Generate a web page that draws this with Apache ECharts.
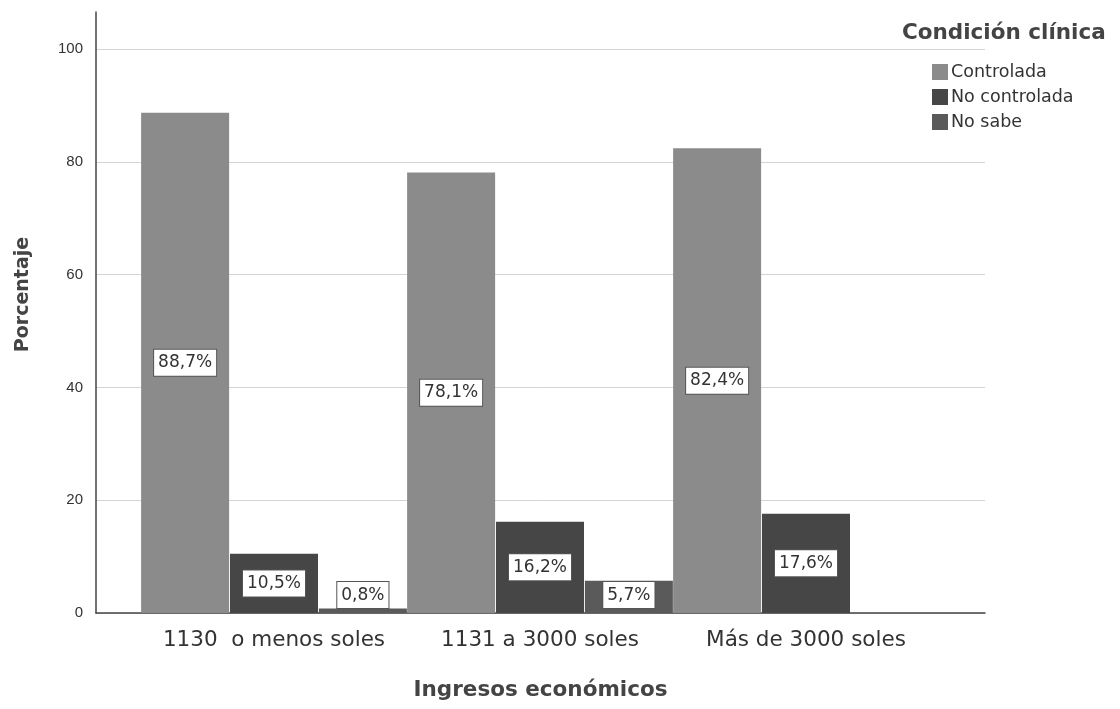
<!DOCTYPE html>
<html>
<head>
<meta charset="utf-8">
<script src="https://cdn.jsdelivr.net/npm/echarts@6/dist/echarts.min.js"></script>
<style>html,body{margin:0;padding:0;background:#fff;}#c{width:1120px;height:709px;}</style>
</head>
<body>
<div id="c"></div>
<script>
var categories = ['1130  o menos soles', '1131 a 3000 soles', 'Más de 3000 soles'];
var controlada = [88.7, 78.1, 82.4];
var noControlada = [10.5, 16.2, 17.6];
var noSabe = [0.8, 5.7, null];
var seriesNames = ['Controlada', 'No controlada', 'No sabe'];
var yTicks = [0, 20, 40, 60, 80, 100];

var colors = ['#8b8b8b', '#464646', '#5a5a5a'];
var yMax = 106.56;
var font = '"DejaVu Sans", sans-serif';
var fontNum = '"Liberation Sans", Arial, sans-serif';

function fmt(v) { return v.toFixed(1).replace('.', ',') + '%'; }

function buildData(arr) {
  return arr.map(function (v) {
    if (v === null) return '-';
    if (v < 6) {
      return { value: v, label: { position: 'insideBottom', distance: 5 } };
    }
    return v;
  });
}

var labelStyle = {
  show: true,
  position: 'inside',
  formatter: function (p) { return fmt(p.value); },
  fontFamily: font,
  fontSize: 17,
  color: '#333',
  backgroundColor: '#fff',
  borderColor: '#555',
  borderWidth: 1,
  padding: [5, 4, 4, 4]
};

var seriesData = [controlada, noControlada, noSabe];
var series = seriesData.map(function (arr, i) {
  return {
    name: seriesNames[i],
    type: 'bar',
    xAxisIndex: 1,
    yAxisIndex: 1,
    data: buildData(arr),
    barWidth: 88,
    barGap: '1%',
    itemStyle: { color: colors[i] },
    label: labelStyle
  };
});

var chart = echarts.init(document.getElementById('c'));
chart.setOption({
  animation: false,
  backgroundColor: '#fff',
  title: {
    text: 'Condición clínica',
    left: 897, top: 17,
    textStyle: { fontFamily: font, fontSize: 21.5, fontWeight: 'bold', color: '#444' }
  },
  legend: {
    orient: 'vertical',
    left: 927, top: 58,
    itemWidth: 16, itemHeight: 16, itemGap: 7,
    icon: 'rect',
    data: seriesNames,
    textStyle: { fontFamily: font, fontSize: 17.5, color: '#333', padding: [0, 0, 0, -2] }
  },
  grid: [
    { left: 96, right: 135, top: 12, bottom: 96 },
    { left: 141, right: 181, top: 12, bottom: 96 }
  ],
  xAxis: [
    {
      gridIndex: 0, type: 'value', min: 0, max: 1,
      axisLine: { show: true, lineStyle: { color: '#444', width: 1.5 } },
      axisTick: { show: false }, axisLabel: { show: false }, splitLine: { show: false },
      name: 'Ingresos económicos', nameLocation: 'middle', nameGap: 66,
      nameTextStyle: { fontFamily: font, fontSize: 21.5, fontWeight: 'bold', color: '#444' }
    },
    {
      gridIndex: 1, type: 'category', data: categories,
      axisLine: { show: false }, axisTick: { show: false },
      axisLabel: { interval: 0, hideOverlap: false, fontFamily: font, fontSize: 21.5, color: '#333', margin: 16 }
    }
  ],
  yAxis: [
    {
      gridIndex: 0, type: 'value', min: 0, max: yMax, interval: 20,
      axisLine: { show: true, lineStyle: { color: '#444', width: 1.5 } },
      axisTick: { show: false },
      axisLabel: {
        fontFamily: fontNum, fontSize: 15, color: '#333', margin: 13,
        formatter: function (v) { return yTicks.indexOf(v) >= 0 ? String(v) : ''; }
      },
      splitLine: { show: true, lineStyle: { color: ['#d4d4d4', '#d4d4d4', '#d4d4d4', '#d4d4d4', '#d4d4d4', '#d4d4d4', 'rgba(0,0,0,0)'] } },
      name: 'Porcentaje', nameLocation: 'middle', nameGap: 63,
      nameTextStyle: { fontFamily: font, fontSize: 19, fontWeight: 'bold', color: '#444', padding: [0, 0, 0, 36] }
    },
    {
      gridIndex: 1, type: 'value', min: 0, max: yMax, show: false
    }
  ],
  series: series
});
</script>
</body>
</html>
